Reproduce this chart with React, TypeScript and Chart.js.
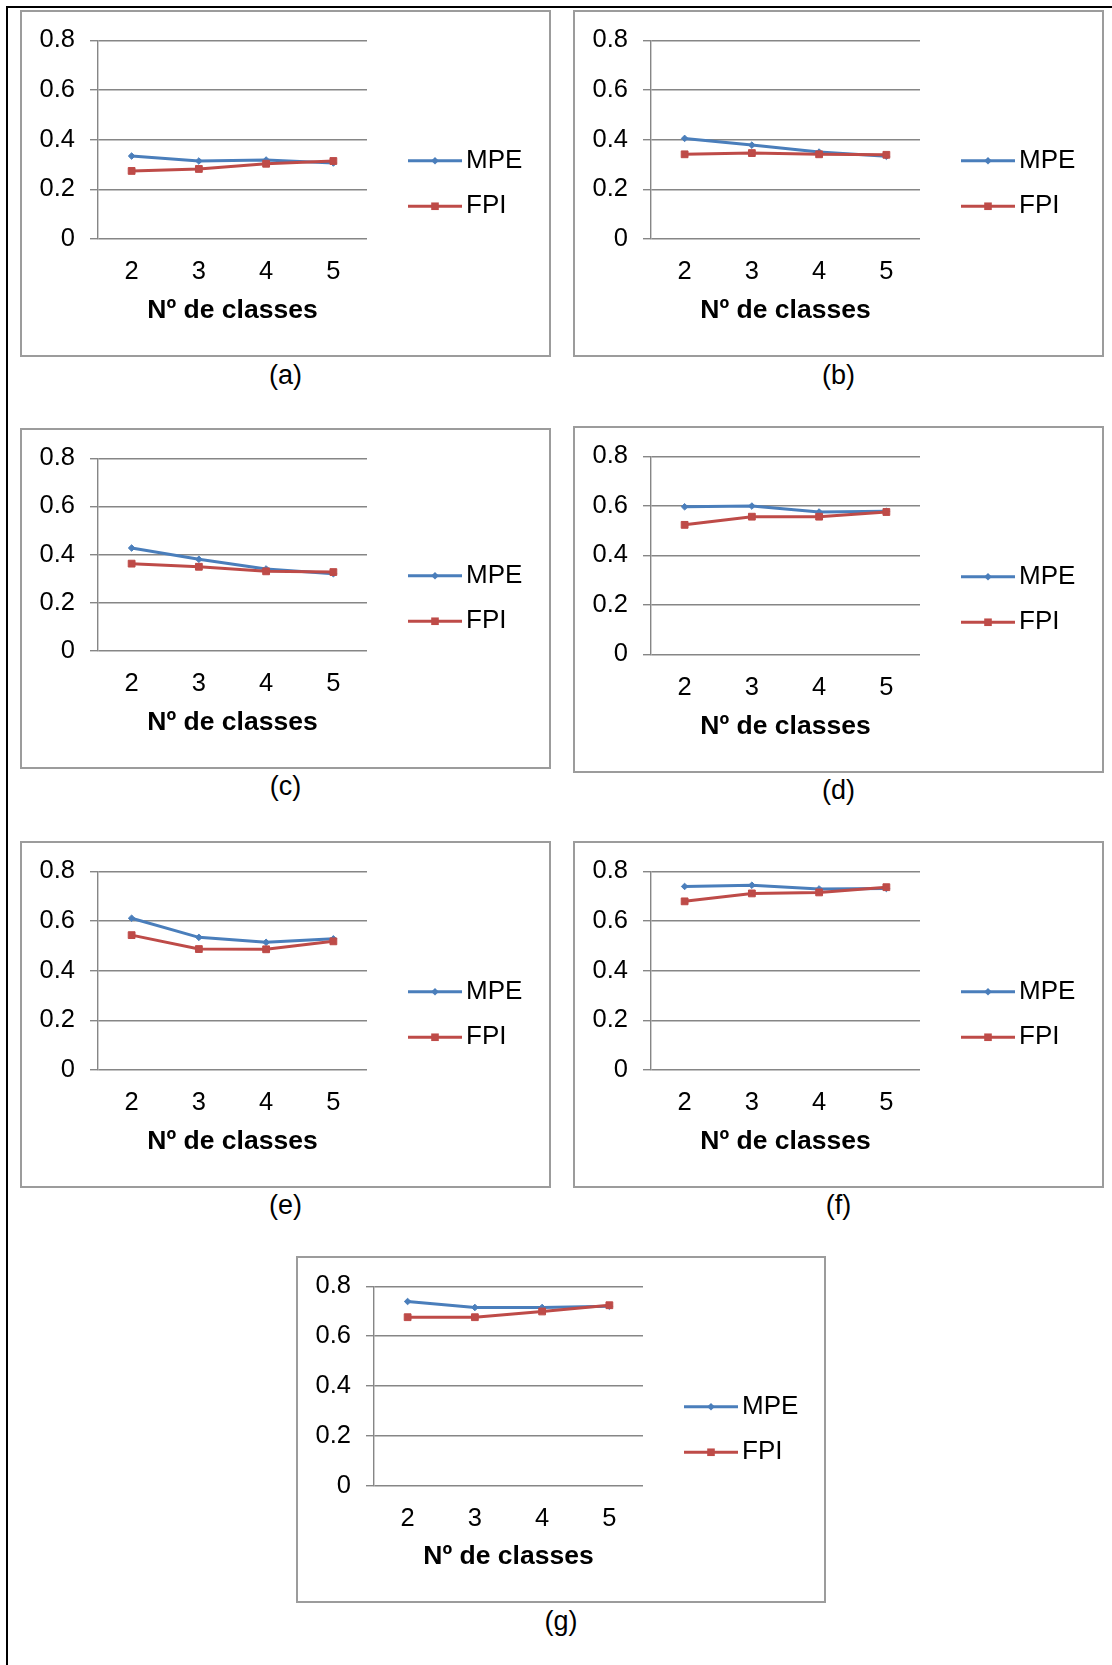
import React, { useEffect, useRef } from 'react';
import { Chart, registerables } from 'chart.js';

Chart.register(...registerables);

// ---------- data ----------
const categories = ['2', '3', '4', '5'];
const yTickLabels = ['0', '0.2', '0.4', '0.6', '0.8'];
const seriesNames = ['MPE', 'FPI'];
const xAxisTitle = 'Nº de classes';
const captions = ['(a)', '(b)', '(c)', '(d)', '(e)', '(f)', '(g)'];

const mpeA = [0.334, 0.314, 0.318, 0.306];
const fpiA = [0.274, 0.282, 0.303, 0.314];

const mpeB = [0.405, 0.378, 0.35, 0.333];
const fpiB = [0.341, 0.346, 0.341, 0.339];

const mpeC = [0.427, 0.38, 0.34, 0.32];
const fpiC = [0.362, 0.349, 0.33, 0.327];

const mpeD = [0.596, 0.599, 0.575, 0.578];
const fpiD = [0.523, 0.556, 0.556, 0.575];

const mpeE = [0.611, 0.534, 0.514, 0.528];
const fpiE = [0.543, 0.487, 0.486, 0.518];

const mpeF = [0.739, 0.744, 0.729, 0.731];
const fpiF = [0.679, 0.711, 0.715, 0.736];

const mpeG = [0.739, 0.715, 0.715, 0.72];
const fpiG = [0.676, 0.676, 0.699, 0.724];

// ---------- styles ----------
const FONT = '"Liberation Sans", Arial, sans-serif';
const BLUE = '#4a7ebb';
const RED = '#be4b48';
const GRID = '#868686';
const BOX = '#9c9c9c';
const PLOT_LEFT = 78;
const PLOT_RIGHT = 347;
const TICK_SIZE = 25.5;
const TITLE_SIZE = 26.5;
const LEGEND_SIZE = 26;
const CAPTION_SIZE = 27;

type PanelProps = {
  left: number;
  top: number;
  width: number;
  height: number;
  plotTop: number;
  plotBottom: number;
  mpe: number[];
  fpi: number[];
  caption: string;
  captionGap: number;
};

const decorPlugin = {
  id: 'decor',
  afterDraw(chart: any) {
    const ctx = chart.ctx as CanvasRenderingContext2D;
    const w = chart.width;
    const h = chart.height;
    ctx.save();
    ctx.strokeStyle = BOX;
    ctx.lineWidth = 2;
    ctx.strokeRect(1, 1, w - 2, h - 2);
    const cy = h / 2;
    chart.data.datasets.forEach((ds: any, i: number) => {
      const y = cy + (i - 0.5) * 45.5;
      const color = ds.borderColor;
      ctx.strokeStyle = color;
      ctx.fillStyle = color;
      ctx.lineWidth = 3;
      ctx.beginPath();
      ctx.moveTo(388, y);
      ctx.lineTo(442, y);
      ctx.stroke();
      const mx = 415;
      ctx.beginPath();
      if (ds.pointStyle === 'rectRot') {
        const r = 3.8;
        ctx.moveTo(mx, y - r);
        ctx.lineTo(mx + r, y);
        ctx.lineTo(mx, y + r);
        ctx.lineTo(mx - r, y);
        ctx.closePath();
      } else {
        const s = 3.8;
        ctx.rect(mx - s, y - s, 2 * s, 2 * s);
      }
      ctx.fill();
      ctx.fillStyle = '#000';
      ctx.font = LEGEND_SIZE + 'px ' + FONT;
      ctx.textBaseline = 'middle';
      ctx.textAlign = 'left';
      ctx.fillText(ds.label, 446, y);
    });
    ctx.restore();
  },
};

function Panel(p: PanelProps) {
  const ref = useRef<HTMLCanvasElement>(null);
  useEffect(() => {
    const chart = new Chart(ref.current as HTMLCanvasElement, {
      type: 'line',
      data: {
        labels: categories,
        datasets: [
          {
            label: seriesNames[0],
            data: p.mpe,
            borderColor: BLUE,
            backgroundColor: BLUE,
            borderWidth: 3,
            pointStyle: 'rectRot',
            pointRadius: 3.3,
            pointBorderWidth: 1,
            pointBackgroundColor: BLUE,
            pointBorderColor: BLUE,
            tension: 0,
            order: 1,
          },
          {
            label: seriesNames[1],
            data: p.fpi,
            borderColor: RED,
            backgroundColor: RED,
            borderWidth: 3,
            pointStyle: 'rect',
            pointRadius: 4.8,
            pointBorderWidth: 1,
            pointBackgroundColor: RED,
            pointBorderColor: RED,
            tension: 0,
            order: 0,
          },
        ],
      },
      options: {
        animation: false,
        responsive: false,
        maintainAspectRatio: false,
        layout: {
          padding: { left: 0, top: p.plotTop, right: p.width - PLOT_RIGHT, bottom: 0 },
        },
        plugins: {
          legend: { display: false },
          tooltip: { enabled: false },
        },
        scales: {
          x: {
            type: 'category',
            offset: true,
            grid: { display: false, drawTicks: false },
            border: { display: false },
            ticks: {
              padding: 18,
              color: '#000',
              maxRotation: 0,
              font: { family: FONT, size: TICK_SIZE },
            },
            title: {
              display: true,
              text: xAxisTitle,
              color: '#000',
              font: { family: FONT, size: TITLE_SIZE, weight: 'bold' },
              padding: { top: 0, bottom: 30 },
            },
            afterFit: (s: any) => {
              s.height = p.height - p.plotBottom;
            },
          },
          y: {
            min: 0,
            max: 0.8,
            ticks: {
              stepSize: 0.2,
              padding: 15,
              color: '#000',
              font: { family: FONT, size: TICK_SIZE },
              callback: (_v: any, i: number) => yTickLabels[i],
            },
            grid: { color: GRID, lineWidth: 1.4, tickLength: 8, drawTicks: true },
            border: { display: true, color: GRID, width: 1.4 },
            afterFit: (s: any) => {
              s.width = PLOT_LEFT;
            },
          },
        },
      } as any,
      plugins: [decorPlugin as any],
    });
    return () => chart.destroy();
  }, []);
  return (
    <>
      <canvas
        ref={ref}
        width={p.width}
        height={p.height}
        style={{ position: 'absolute', left: p.left, top: p.top, width: p.width, height: p.height }}
      />
      <div
        style={{
          position: 'absolute',
          left: p.left,
          top: p.top + p.height + p.captionGap - 16,
          width: p.width,
          height: 32,
          lineHeight: '32px',
          textAlign: 'center',
          fontFamily: FONT,
          fontSize: CAPTION_SIZE,
          color: '#000',
        }}
      >
        {p.caption}
      </div>
    </>
  );
}

export default function App() {
  return (
    <div style={{ position: 'absolute', left: 0, top: 0, width: 1112, height: 1665, background: '#fff', overflow: 'hidden' }}>
      <div style={{ position: 'absolute', left: 6, top: 6, width: 1106, height: 2, background: '#000' }} />
      <div style={{ position: 'absolute', left: 6, top: 6, width: 2, height: 1659, background: '#000' }} />
      <Panel left={20} top={10} width={531} height={347} plotTop={28.7} plotBottom={229} mpe={mpeA} fpi={fpiA} caption={captions[0]} captionGap={18} />
      <Panel left={573} top={10} width={531} height={347} plotTop={28.7} plotBottom={229} mpe={mpeB} fpi={fpiB} caption={captions[1]} captionGap={18} />
      <Panel left={20} top={428} width={531} height={341} plotTop={30.3} plotBottom={222.7} mpe={mpeC} fpi={fpiC} caption={captions[2]} captionGap={17} />
      <Panel left={573} top={426} width={531} height={347} plotTop={28} plotBottom={228.3} mpe={mpeD} fpi={fpiD} caption={captions[3]} captionGap={17} />
      <Panel left={20} top={841} width={531} height={347} plotTop={28.7} plotBottom={229} mpe={mpeE} fpi={fpiE} caption={captions[4]} captionGap={17} />
      <Panel left={573} top={841} width={531} height={347} plotTop={28.7} plotBottom={229} mpe={mpeF} fpi={fpiF} caption={captions[5]} captionGap={17} />
      <Panel left={296} top={1256} width={530} height={347} plotTop={29} plotBottom={229.7} mpe={mpeG} fpi={fpiG} caption={captions[6]} captionGap={18} />
    </div>
  );
}
